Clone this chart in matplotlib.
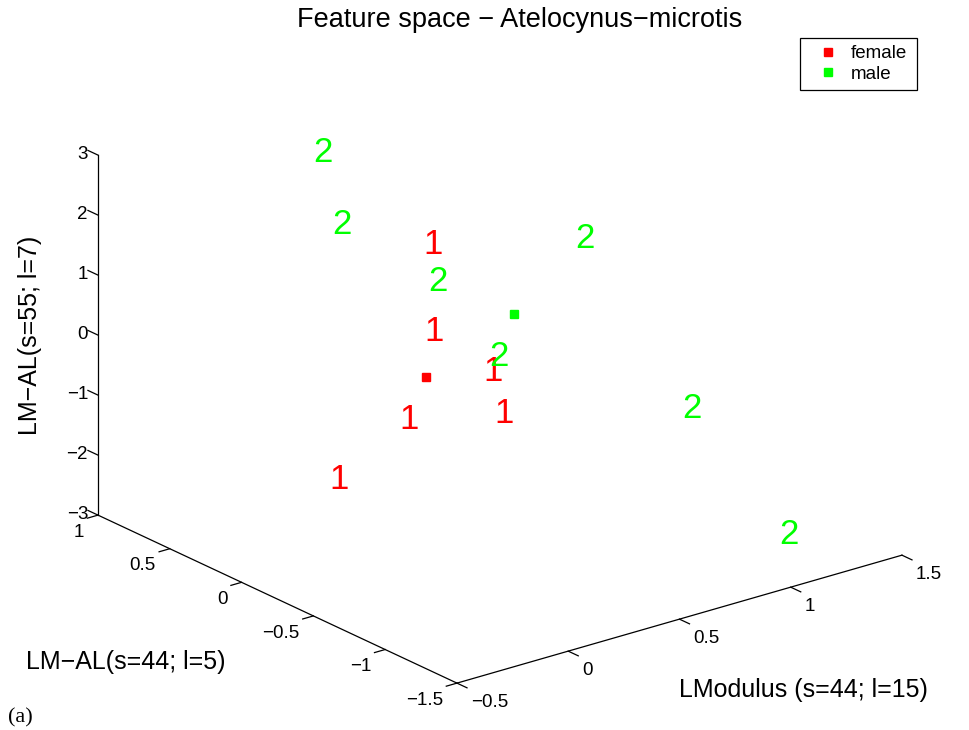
import numpy as np
import matplotlib
matplotlib.use("Agg")
import matplotlib.pyplot as plt
from matplotlib.lines import Line2D

plt.rcParams['font.family'] = ['Liberation Sans', 'DejaVu Sans']

# Feature values per specimen: LModulus, LM-AL(s=44; l=5), LM-AL(s=55; l=7)
female_lmod = [0.38, 0.13, 0.33, -0.18, 0.12, -0.17]
female_al44 = [0.10, -0.30, -0.40, -0.60, -0.80, -0.10]
female_al55 = [1.58, 0.84, 0.08, 0.04, 0.05, -1.53]

male_lmod = [0.21, 0.10, 0.87, 0.34, 0.29, 0.90, 1.14]
male_al44 = [0.60, 0.30, -0.20, 0.00, -0.50, -0.90, -1.20]
male_al55 = [2.74, 1.98, 1.49, 1.11, 0.48, -0.59, -2.61]

x_ticks = [-0.5, 0, 0.5, 1, 1.5]
y_ticks = [-1.5, -1, -0.5, 0, 0.5, 1]
z_ticks = [-3, -2, -1, 0, 1, 2, 3]

groups = [
    ("female", "1", (1, 0, 0), female_lmod, female_al44, female_al55),
    ("male", "2", (0, 1, 0), male_lmod, male_al44, male_al55),
]


def fmt(v):
    return f"{v:g}".replace("-", "\u2212")


fig = plt.figure(figsize=(9.7, 7.3), dpi=100)
ax = fig.add_axes([0.12897, 0.0, 0.75258, 1.0], projection='3d')
ax.set_proj_type('ortho')
ax.view_init(elev=21.52, azim=-128.09)
ax.set_xlim(x_ticks[0], x_ticks[-1])
ax.set_ylim(y_ticks[0], y_ticks[-1])
ax.set_zlim(z_ticks[0], z_ticks[-1])
ax.set_box_aspect((565.4, 581.9, 387.0), zoom=1.1954)
ax.set_axis_off()

M = ax.get_proj()


def label3d(x, y, z, s, **kw):
    """Place a flat text at the projected position of a 3D point."""
    p = M @ np.array([x, y, z, 1.0])
    return ax.text2D(p[0] / p[3], p[1] / p[3], s, transform=ax.transData,
                     clip_on=False, **kw)


x0, x1 = ax.get_xlim()
y0, y1 = ax.get_ylim()
z0, z1 = ax.get_zlim()
line_kw = dict(color='k', lw=0.9, clip_on=False)
tick_fs = 13.5

# axis lines (open box: three edges only)
ax.plot([x0, x1], [y0, y0], [z0, z0], **line_kw)
ax.plot([x0, x0], [y0, y1], [z0, z0], **line_kw)
ax.plot([x0, x0], [y1, y1], [z0, z1], **line_kw)

# LModulus ticks
for v in x_ticks:
    ax.plot([v, v], [y0, y0 - 0.07], [z0, z0], **line_kw)
    label3d(v, y0 - 0.0975, z0 - 0.2075, fmt(v), ha='left', va='center',
            fontsize=tick_fs)

# LM-AL(s=44) ticks
for v in y_ticks:
    ax.plot([x0, x0 - 0.048], [v, v], [z0, z0], **line_kw)
    label3d(x0 - 0.063, v, z0 - 0.22, fmt(v), ha='right', va='center',
            fontsize=tick_fs)

# LM-AL(s=55) ticks
for v in z_ticks:
    ax.plot([x0, x0], [y1, y1 + 0.07], [v, v], **line_kw)
    label3d(x0, y1 + 0.0696, v - 0.07, fmt(v), ha='right', va='center',
            fontsize=tick_fs)

# class labels at each specimen and the class centroids
handles = []
for name, mark, color, xs, ys, zs in groups:
    for x, y, z in zip(xs, ys, zs):
        label3d(x, y, z, mark, color=color, fontsize=25, ha='left', va='center')
    ax.plot([np.mean(xs)], [np.mean(ys)], [np.mean(zs)], 's', color=color,
            ms=6, mec=color, clip_on=False)
    handles.append(Line2D([], [], marker='s', ls='none', color=color,
                          ms=6, mec=color, label=name))

leg = fig.legend(handles=handles, loc='upper left', mode='expand',
                 bbox_to_anchor=(800 / 970, 1 - 86 / 730, 117 / 970, 48 / 730),
                 borderaxespad=0, fontsize=13.5, frameon=True, fancybox=False,
                 edgecolor='k', framealpha=1, borderpad=0.38,
                 handlelength=2.2, handletextpad=0.15, labelspacing=0.18)
leg.get_frame().set_linewidth(0.9)

fig.text(520 / 970, 1 - 20 / 730, "Feature space \u2212 Atelocynus\u2212microtis",
         ha='center', va='center', fontsize=19.5)
fig.text(30 / 970, 1 - 335 / 730, "LM\u2212AL(s=55; l=7)", rotation=90,
         ha='center', va='center', fontsize=18)
fig.text(126 / 970, 1 - 662 / 730, "LM\u2212AL(s=44; l=5)",
         ha='center', va='center', fontsize=18)
fig.text(803 / 970, 1 - 690 / 730, "LModulus (s=44; l=15)",
         ha='center', va='center', fontsize=18)
fig.text(20 / 970, 1 - 718 / 730, "(a)", family=['Liberation Serif'],
         ha='center', va='center', fontsize=16)

fig.savefig("out.png", dpi=100, facecolor='white')
